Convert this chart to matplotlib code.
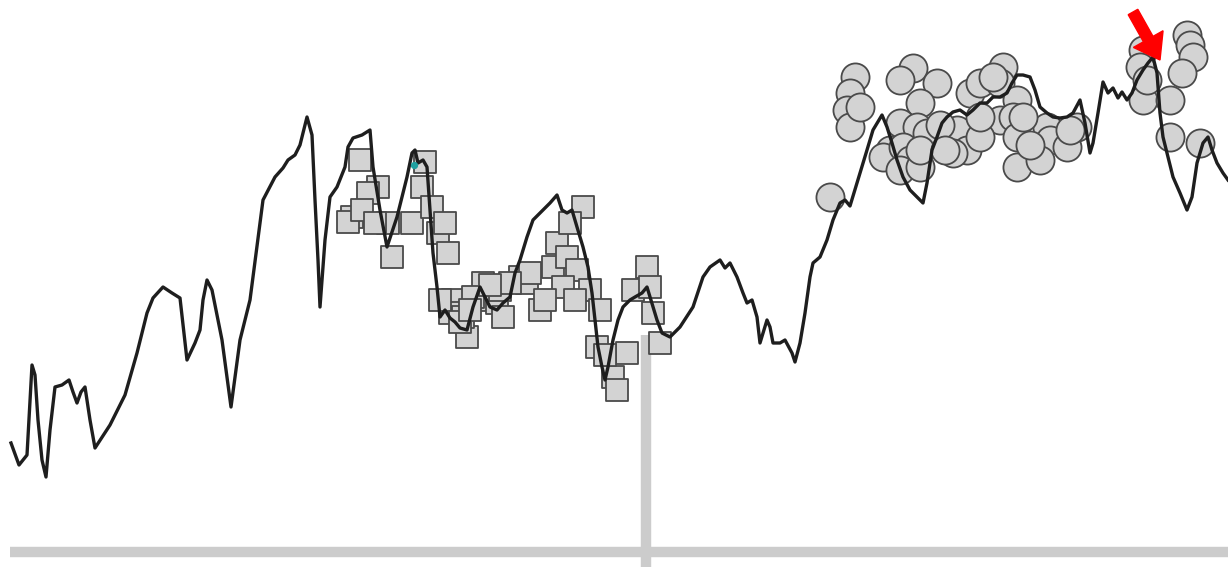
import numpy as np
import matplotlib.pyplot as plt

# picture is 1228 x 567 px; levels are measured upward from the bottom edge
H = 567

# main series (time, level)
t = [11, 19, 27, 30, 32, 35, 38, 42, 46, 50, 55, 62, 69, 73, 77, 81, 85, 90, 95,
     110, 125, 137, 147, 153, 163, 172, 180, 187, 195, 200, 203, 207, 212, 222, 231,
     240, 250, 263, 275, 283, 288, 295, 300, 307, 312, 315, 318, 320, 325, 330, 337,
     345, 348, 353, 362, 370, 373, 380, 387, 397, 407, 412, 415, 418, 423, 427, 430,
     433, 437, 440, 445, 450, 455, 460, 467, 473, 480, 485, 490, 497, 503, 510, 515,
     520, 527, 533, 540, 550, 557, 562, 567, 572, 577, 583, 588, 592, 595, 598, 602,
     605, 608, 613, 618, 623, 630, 635, 642, 647, 650, 657, 662, 670, 680, 693, 703,
     710, 720, 725, 730, 737, 743, 747, 752, 757, 760, 763, 767, 770, 773, 780, 785,
     792, 795, 800, 805, 810, 813, 820, 827, 833, 840, 845, 850, 857, 867, 873, 882,
     887, 892, 897, 903, 910, 917, 923, 927, 932, 937, 942, 947, 953, 960, 967, 973,
     980, 987, 993, 1000, 1007, 1012, 1017, 1023, 1030, 1035, 1040, 1047, 1053, 1060,
     1067, 1073, 1080, 1085, 1090, 1093, 1098, 1103, 1108, 1113, 1118, 1122, 1127,
     1132, 1137, 1143, 1148, 1153, 1157, 1160, 1163, 1168, 1173, 1180, 1187, 1192,
     1197, 1203, 1208, 1212, 1217, 1223, 1228]
depth = [443, 465, 455, 400, 365, 375, 420, 460, 477, 430, 387, 385, 380, 392, 403, 392,
         387, 420, 448, 425, 395, 353, 313, 298, 287, 293, 298, 360, 343, 330, 300, 280,
         290, 340, 407, 340, 300, 200, 177, 168, 160, 155, 145, 117, 135, 200, 260, 307,
         240, 197, 187, 167, 147, 138, 135, 130, 167, 210, 247, 217, 177, 153, 150, 163,
         160, 167, 210, 253, 287, 317, 310, 318, 322, 328, 330, 307, 287, 297, 307, 310,
         303, 297, 273, 260, 237, 220, 213, 203, 195, 210, 213, 210, 227, 247, 267, 293,
         320, 347, 367, 380, 367, 340, 320, 307, 300, 297, 293, 287, 297, 320, 333, 337,
         327, 307, 277, 267, 260, 268, 263, 277, 293, 303, 300, 317, 343, 333, 320, 327,
         343, 343, 340, 353, 362, 343, 313, 277, 263, 257, 240, 220, 203, 200, 206, 183,
         150, 130, 115, 127, 143, 160, 177, 190, 197, 203, 183, 150, 137, 123, 117, 112,
         110, 115, 110, 103, 103, 97, 97, 93, 83, 75, 75, 77, 90, 107, 113, 117, 118, 117,
         113, 100, 123, 153, 143, 113, 82, 93, 88, 98, 92, 100, 93, 80, 70, 63, 57, 73,
         113, 137, 157, 177, 193, 210, 197, 163, 143, 137, 150, 163, 173, 180]
level = [H - d for d in depth]

# square markers
sq_t = [360, 378, 368, 352, 348, 362, 388, 375, 392, 412, 425, 422, 432, 438, 445, 448,
        453, 450, 467, 463, 483, 487, 473, 497, 503, 520, 527, 540, 557, 553, 567, 577,
        563, 583, 570, 590, 600, 597, 627, 613, 617, 633, 647, 650, 653, 660, 530, 500,
        440, 460, 605, 510, 545, 490, 470, 575]
sq_d = [160, 187, 193, 217, 222, 210, 223, 223, 257, 223, 162, 187, 207, 233, 223, 253,
        300, 313, 337, 317, 283, 300, 297, 303, 317, 277, 283, 310, 243, 267, 257, 270,
        287, 207, 223, 290, 310, 347, 353, 377, 390, 290, 267, 287, 313, 343, 273, 290,
        300, 322, 355, 283, 300, 285, 310, 300]
sq_level = [H - d for d in sq_d]

# circle markers
ci_t = [830, 855, 850, 847, 850, 860, 913, 900, 937, 920, 900, 917, 927, 890, 883, 903,
        910, 900, 920, 920, 957, 970, 980, 1003, 1000, 1000, 1017, 1013, 967, 953, 980,
        1017, 1017, 1047, 1050, 1040, 1067, 1077, 980, 993, 1143, 1187, 1190, 1193, 1182,
        1143, 1170, 1140, 1170, 1200, 1147, 1023, 1070, 940, 945, 1030]
ci_d = [197, 77, 93, 110, 127, 107, 68, 80, 83, 103, 123, 127, 133, 150, 157, 147,
        160, 170, 167, 150, 130, 93, 83, 67, 83, 120, 100, 117, 150, 153, 137,
        137, 167, 127, 140, 160, 147, 127, 117, 77, 50, 35, 45, 57, 73,
        100, 100, 67, 137, 143, 80, 117, 130, 125, 150, 145]
ci_level = [H - d for d in ci_d]

fig = plt.figure(figsize=(12.28, 5.67), dpi=100)
ax = fig.add_axes([0, 0, 1, 1])
ax.set_xlim(0, 1228)
ax.set_ylim(0, H)
ax.set_axis_off()

# grey reference lines
ax.plot([10, 1228], [H - 552, H - 552], color='#cccccc', lw=7.5, solid_capstyle='butt', zorder=1)
ax.plot([646, 646], [H - 335, 0], color='#cccccc', lw=7.5, solid_capstyle='butt', zorder=1)

ax.scatter(sq_t, sq_level, marker='s', s=270, facecolor='#d3d3d3', edgecolor='#4a4a4a',
           linewidths=1.3, zorder=2)
ax.scatter(ci_t, ci_level, marker='o', s=410, facecolor='#d3d3d3', edgecolor='#4a4a4a',
           linewidths=1.3, zorder=2)

ax.plot(t, level, color='#1e1e1e', lw=2.4, zorder=3)

# small highlighted point
ax.scatter([414], [H - 165], s=18, color='#20a0a0', zorder=4)

# red arrow pointing at the peak
ax.arrow(1133, H - 12, 27, -48, width=11, head_width=34, head_length=24,
         length_includes_head=True, color='red', zorder=5)

fig.savefig('out.png', dpi=100)
